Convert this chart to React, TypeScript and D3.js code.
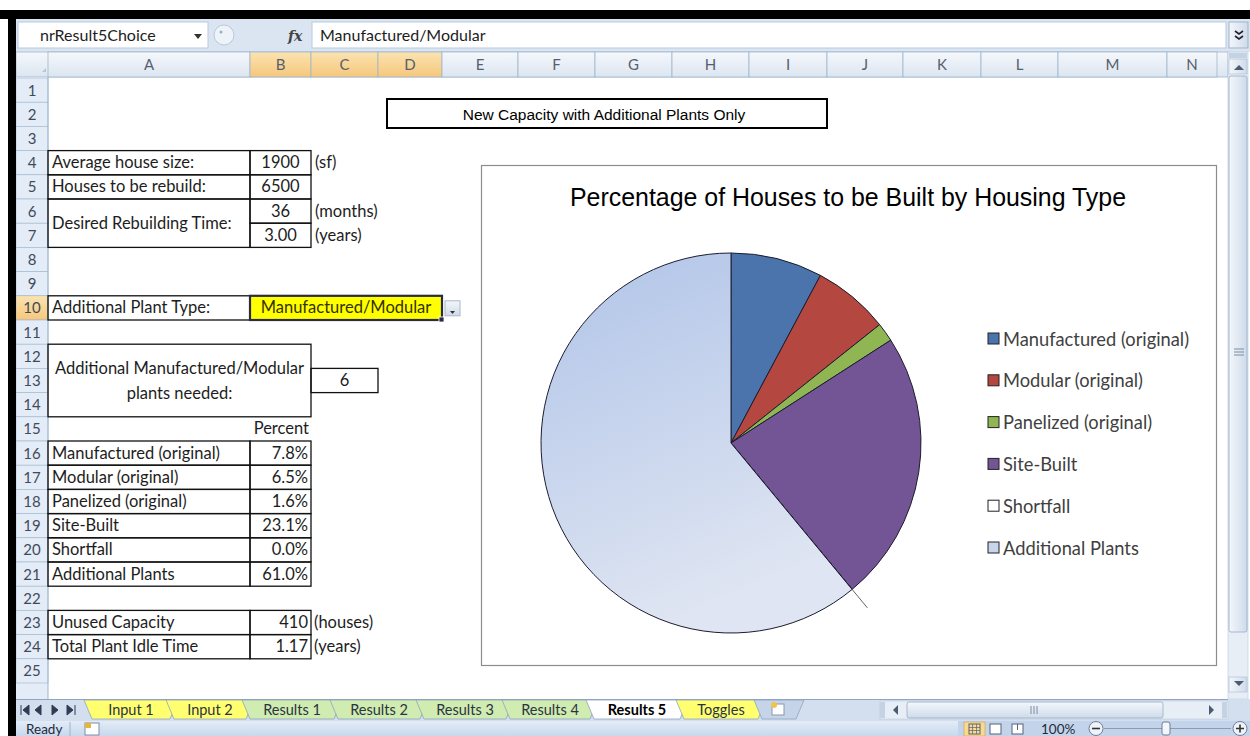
import React from 'react'
import { pie, arc, scaleLinear, scalePoint, cumsum } from 'd3'

// sheet contents
const columns = ['A', 'B', 'C', 'D', 'E', 'F', 'G', 'H', 'I', 'J', 'K', 'L', 'M', 'N']
const selectedColumns = ['B', 'C', 'D']
const inputLabels = ['Average house size:', 'Houses to be rebuild:', 'Desired Rebuilding Time:']
const inputValues = ['1900', '6500', '36', '3.00']
const inputUnits = ['(sf)', '', '(months)', '(years)']
const plantTypeLabel = 'Additional Plant Type:'
const plantType = 'Manufactured/Modular'
const plantsNeededLabel = ['Additional Manufactured/Modular', 'plants needed:']
const plantsNeeded = '6'
const categories = [
    'Manufactured (original)',
    'Modular (original)',
    'Panelized (original)',
    'Site-Built',
    'Shortfall',
    'Additional Plants',
]
const percents = [7.8, 6.5, 1.6, 23.1, 0.0, 61.0]
const capacityLabels = ['Unused Capacity', 'Total Plant Idle Time']
const capacityValues = ['410', '1.17']
const capacityUnits = ['(houses)', '(years)']
const sheetTabs = ['Input 1', 'Input 2', 'Results 1', 'Results 2', 'Results 3', 'Results 4', 'Results 5', 'Toggles']
const activeTab = 'Results 5'
const chartTitle = 'Percentage of Houses to be Built by Housing Type'
const boxTitle = 'New Capacity with Additional Plants Only'
const formulaText = 'Manufactured/Modular'
const nameBox = 'nrResult5Choice'

// layout
const colWidths = [202, 61, 67, 64, 76, 77, 77, 77, 78, 76, 78, 77, 109, 50]
const tabWidths = [82, 76, 88, 86, 86, 84, 90, 78]
const sliceColors = ['#4a74ab', '#b4473f', '#8fb652', '#735595', '#ffffff', 'url(#addGrad)']
const tabColors = ['#ffff70', '#ffff70', '#d0ecb0', '#d0ecb0', '#d0ecb0', '#d0ecb0', '#ffffff', '#ffff70']

const UI = 'Lato, "Open Sans", sans-serif'
const ARIAL = '"Liberation Sans", Arial, sans-serif'

const colEdges = [48, ...Array.from(cumsum(colWidths), v => 48 + v)]
const colX = (c: string) => colEdges[columns.indexOf(c)]
const colR = (c: string) => colEdges[columns.indexOf(c) + 1]
const rowY = scaleLinear().domain([1, 2]).range([78, 102.2])
const base = (r: number) => rowY(r) + 17.6

const Box = ({ c0, c1, r0, r1, fill = 'none', sw = 1.3 }: any) => (
    <rect x={colX(c0)} y={rowY(r0)} width={colR(c1) - colX(c0)} height={rowY(r1 + 1) - rowY(r0)}
        fill={fill} stroke="#111" strokeWidth={sw} />
)

const T = ({ x, y, anchor = 'start', size = 16.5, children, ...rest }: any) => (
    <text x={x} y={y} textAnchor={anchor} fontFamily={UI} fontSize={size} fill="#1d1d1d" {...rest}>{children}</text>
)

const App = () => {
    const cx = 731, cy = 443, r = 190
    const arcs = pie<number>().sort(null).value(d => d)(percents)
    const arcGen = arc<any>().innerRadius(0).outerRadius(r)
    const legendY = scalePoint().domain(categories).range([339, 548])
    const sa = arcs[4].startAngle
    const tabStarts = [90, ...Array.from(cumsum(tabWidths), v => 90 + v)]

    return (
        <svg width={1250} height={736} style={{ position: 'absolute', left: 0, top: 0 }}>
            <defs>
                <linearGradient id="addGrad" x1="0" y1="0" x2="0.35" y2="1">
                    <stop offset="0" stopColor="#b0c4e8" />
                    <stop offset="1" stopColor="#dfe5f2" />
                </linearGradient>
                <linearGradient id="hdr" x1="0" y1="0" x2="0" y2="1">
                    <stop offset="0" stopColor="#f5f8fc" />
                    <stop offset="1" stopColor="#dce5f0" />
                </linearGradient>
                <linearGradient id="hdrSel" x1="0" y1="0" x2="0" y2="1">
                    <stop offset="0" stopColor="#fbe3b0" />
                    <stop offset="1" stopColor="#f6c77c" />
                </linearGradient>
                <linearGradient id="bar" x1="0" y1="0" x2="0" y2="1">
                    <stop offset="0" stopColor="#e3ecf7" />
                    <stop offset="1" stopColor="#c8d8ed" />
                </linearGradient>
                <linearGradient id="thumb" x1="0" y1="0" x2="0" y2="1">
                    <stop offset="0" stopColor="#f4f7fb" />
                    <stop offset="1" stopColor="#cfdbea" />
                </linearGradient>
                <linearGradient id="vthumb" x1="0" y1="0" x2="1" y2="0">
                    <stop offset="0" stopColor="#f4f7fb" />
                    <stop offset="1" stopColor="#cfdbea" />
                </linearGradient>
            </defs>
            <rect width={1250} height={736} fill="#ffffff" />

            {/* formula bar */}
            <rect x={16} y={19} width={1234} height={33} fill="#dbe5f1" />
            <rect x={18} y={22} width={190} height={26} fill="#fff" stroke="#b8c9de" />
            <T x={40} y={41} size={16}>{nameBox}</T>
            <path d="M194,34 l8,0 l-4,5 z" fill="#333" />
            <circle cx={224} cy={35} r={10} fill="#eef3f9" stroke="#b9c8dc" />
            <circle cx={221} cy={32} r={1.5} fill="#9aaec6" />
            <text x={288} y={41} fontFamily='"DejaVu Serif", serif' fontStyle="italic" fontWeight="bold" fontSize={14} fill="#444">fx</text>
            <rect x={312} y={22} width={914} height={26} fill="#fff" stroke="#b8c9de" />
            <T x={320} y={41} size={16}>{formulaText}</T>
            <rect x={1229} y={22} width={19} height={26} fill="url(#vthumb)" stroke="#9fb3cc" />
            <path d="M1235,31 l4,3 l4,-3 M1235,36 l4,3 l4,-3" stroke="#223" strokeWidth={1.6} fill="none" />

            {/* column headers */}
            <rect x={16} y={52} width={1212} height={25} fill="url(#hdr)" stroke="#9eb6ce" strokeWidth={0.8} />
            <path d="M42,72 l4,0 l0,-4 z" fill="#b5c6da" />
            {columns.map((c, i) => (
                <g key={c}>
                    <rect x={colEdges[i]} y={52} width={colWidths[i]} height={25}
                        fill={selectedColumns.includes(c) ? 'url(#hdrSel)' : 'url(#hdr)'} stroke="#9eb6ce" strokeWidth={0.8} />
                    <T x={colEdges[i] + colWidths[i] / 2} y={70} anchor="middle" size={15} fill="#55606e">{c}</T>
                </g>
            ))}

            {/* row headers */}
            <rect x={16} y={77} width={32} height={622} fill="#e4ecf7" />
            {Array.from({ length: 25 }, (_, i) => i + 1).map(k => (
                <g key={k}>
                    <rect x={16} y={rowY(k)} width={32} height={24.2} fill={k === 10 ? 'url(#hdrSel)' : '#e4ecf7'}
                        stroke="#9eb6ce" strokeWidth={0.6} />
                    <T x={32} y={base(k)} anchor="middle" size={15} fill="#3f4b5b">{k}</T>
                </g>
            ))}
            <line x1={48} y1={77} x2={48} y2={699} stroke="#9eb6ce" />

            {/* inputs block */}
            <Box c0="A" c1="A" r0={4} r1={4} />
            <Box c0="B" c1="B" r0={4} r1={4} />
            <Box c0="A" c1="A" r0={5} r1={5} />
            <Box c0="B" c1="B" r0={5} r1={5} />
            <Box c0="A" c1="A" r0={6} r1={7} />
            <Box c0="B" c1="B" r0={6} r1={6} />
            <Box c0="B" c1="B" r0={7} r1={7} />
            <T x={52} y={base(4)}>{inputLabels[0]}</T>
            <T x={52} y={base(5)}>{inputLabels[1]}</T>
            <T x={52} y={rowY(7) + 5.5}>{inputLabels[2]}</T>
            {inputValues.map((v, i) => (
                <T key={i} x={(colX('B') + colR('B')) / 2} y={base(4 + i)} anchor="middle">{v}</T>
            ))}
            {inputUnits.map((u, i) => (
                <T key={i} x={colX('C') + 4} y={base(4 + i)}>{u}</T>
            ))}

            {/* plant type */}
            <Box c0="A" c1="A" r0={10} r1={10} />
            <T x={52} y={base(10)}>{plantTypeLabel}</T>
            <rect x={colX('B')} y={rowY(10)} width={colR('D') - colX('B')} height={24.2} fill="#ffff00" stroke="#2a2a40" strokeWidth={2.2} />
            <rect x={colR('D') - 3} y={rowY(11) - 3} width={5} height={5} fill="#2a2a40" stroke="#fff" strokeWidth={0.8} />
            <T x={(colX('B') + colR('D')) / 2} y={base(10)} anchor="middle" fill="#333300">{plantType}</T>
            <rect x={445} y={rowY(10) + 5} width={15} height={15} fill="url(#thumb)" stroke="#aab7c8" />
            <path d="M450,311 l5,0 l-2.5,3 z" fill="#333" />

            {/* plants needed */}
            <Box c0="A" c1="B" r0={12} r1={14} />
            <T x={(colX('A') + colR('B')) / 2} y={rowY(13) + 6} anchor="middle">{plantsNeededLabel[0]}</T>
            <T x={(colX('A') + colR('B')) / 2} y={rowY(14) + 6} anchor="middle">{plantsNeededLabel[1]}</T>
            <Box c0="C" c1="C" r0={13} r1={13} />
            <T x={(colX('C') + colR('C')) / 2} y={base(13)} anchor="middle">{plantsNeeded}</T>

            {/* percent table */}
            <T x={colR('B') - 2} y={base(15)} anchor="end">Percent</T>
            {categories.map((c, i) => (
                <g key={c}>
                    <Box c0="A" c1="A" r0={16 + i} r1={16 + i} />
                    <Box c0="B" c1="B" r0={16 + i} r1={16 + i} />
                    <T x={52} y={base(16 + i)}>{c}</T>
                    <T x={colR('B') - 3} y={base(16 + i)} anchor="end">{percents[i].toFixed(1)}%</T>
                </g>
            ))}

            {/* capacity */}
            {capacityLabels.map((c, i) => (
                <g key={c}>
                    <Box c0="A" c1="A" r0={23 + i} r1={23 + i} />
                    <Box c0="B" c1="B" r0={23 + i} r1={23 + i} />
                    <T x={52} y={base(23 + i)}>{c}</T>
                    <T x={colR('B') - 3} y={base(23 + i)} anchor="end">{capacityValues[i]}</T>
                    <T x={colX('C') + 3} y={base(23 + i)}>{capacityUnits[i]}</T>
                </g>
            ))}

            {/* title box */}
            <rect x={387} y={99} width={440} height={29} fill="#fff" stroke="#000" strokeWidth={2} />
            <text x={604} y={119.5} textAnchor="middle" fontFamily={ARIAL} fontSize={15.5} fill="#000">{boxTitle}</text>

            {/* chart */}
            <rect x={481.5} y={165.5} width={735} height={500} fill="#fff" stroke="#8c8c8c" strokeWidth={1.2} />
            <text x={848} y={206} textAnchor="middle" fontFamily={ARIAL} fontSize={26} fill="#000"
                textLength={556} lengthAdjust="spacingAndGlyphs">{chartTitle}</text>
            <g transform={`translate(${cx},${cy})`}>
                {arcs.map((a, i) => (
                    <path key={i} d={arcGen(a) || ''} fill={sliceColors[i]} stroke="#1c1c30" strokeWidth={1} />
                ))}
                <line x1={Math.sin(sa) * r} y1={-Math.cos(sa) * r} x2={Math.sin(sa) * (r + 24)} y2={-Math.cos(sa) * (r + 24)}
                    stroke="#666" strokeWidth={1} />
            </g>
            {categories.map((c, i) => (
                <g key={c}>
                    <rect x={988} y={legendY(c)! - 6} width={11} height={11}
                        fill={i === 5 ? '#c8d4ea' : sliceColors[i]} stroke="#222" strokeWidth={1} />
                    <T x={1003} y={legendY(c)! + 6.5} size={18.3} fill="#404040">{c}</T>
                </g>
            ))}

            {/* vertical scrollbar */}
            <rect x={1228} y={52} width={20} height={647} fill="#e8eef6" stroke="#b9c8dc" strokeWidth={0.6} />
            <rect x={1229} y={53} width={18} height={5} fill="#c4d2e4" />
            <rect x={1229} y={59} width={18} height={15} fill="url(#vthumb)" stroke="#a7b8cf" strokeWidth={0.6} />
            <path d="M1234,70 l5,-5 l5,5 z" fill="#4b5b70" />
            <rect x={1229} y={76} width={18} height={556} rx={2} fill="url(#vthumb)" stroke="#98abc4" strokeWidth={0.8} />
            <path d="M1234,349 h10 M1234,352 h10 M1234,355 h10" stroke="#7a8ca4" />
            <rect x={1229} y={677} width={18} height={15} fill="url(#vthumb)" stroke="#a7b8cf" strokeWidth={0.6} />
            <path d="M1234,681 l5,5 l5,-5 z" fill="#4b5b70" />

            {/* sheet tabs */}
            <rect x={16} y={699} width={1234} height={22} fill="#d3dfee" />
            <line x1={16} y1={699.5} x2={1228} y2={699.5} stroke="#8fa6c3" />
            {['M21,705 v10 M29,705 l-6,5 l6,5 z', 'M41,705 l-6,5 l6,5 z', 'M52,705 l6,5 l-6,5 z', 'M67,705 l6,5 l-6,5 z M75,705 v10']
                .map((d, i) => <path key={i} d={d} fill="#2e3d55" stroke="#2e3d55" strokeWidth={1} />)}
            {sheetTabs.map((t, i) => {
                const x0 = tabStarts[i], x1 = tabStarts[i + 1]
                const active = t === activeTab
                return (
                    <g key={t}>
                        <path d={`M${x0 - 6},700 L${x1 + 6},700 L${x1 - 2},719 L${x0 + 2},719 Z`}
                            fill={tabColors[i]} stroke="#8ea3bf" strokeWidth={0.8} />
                        <T x={(x0 + x1) / 2} y={715} anchor="middle" size={14.5}
                            fontWeight={active ? 'bold' : 'normal'} fill={active ? '#000' : '#2a3344'}>{t}</T>
                    </g>
                )
            })}
            <path d={`M${tabStarts[8] - 6},700 L${tabStarts[8] + 44},700 L${tabStarts[8] + 36},719 L${tabStarts[8] + 2},719 Z`}
                fill="#c5d4e8" stroke="#8ea3bf" strokeWidth={0.8} />
            <rect x={tabStarts[8] + 12} y={704} width={12} height={11} fill="#fff" stroke="#8a98ad" />
            <circle cx={tabStarts[8] + 14} cy={705} r={3} fill="#f4c34a" />

            {/* horizontal scrollbar */}
            <rect x={880} y={701} width={348} height={18} fill="#e8eef6" stroke="#b9c8dc" strokeWidth={0.6} />
            <rect x={880} y={702} width={5} height={16} fill="#c4d2e4" />
            <path d="M898,705 l-5,5 l5,5 z" fill="#4b5b70" />
            <rect x={907} y={702} width={256} height={16} rx={2} fill="url(#thumb)" stroke="#98abc4" strokeWidth={0.8} />
            <path d="M1031,706 v8 M1034,706 v8 M1037,706 v8" stroke="#7a8ca4" />
            <path d="M1209,705 l5,5 l-5,5 z" fill="#4b5b70" />
            <rect x={1222} y={702} width={5} height={16} fill="#c4d2e4" />

            {/* status bar */}
            <rect x={16} y={721} width={1234} height={15} fill="url(#bar)" />
            <rect x={958} y={721} width={292} height={15} fill="#c3d4ea" />
            <T x={26} y={734} size={13.5} fill="#1f2a3a">Ready</T>
            <line x1={70} y1={722} x2={70} y2={736} stroke="#9fb3cc" />
            <rect x={85} y={723} width={14} height={12} fill="#fff" stroke="#7d8ea6" />
            <rect x={85} y={723} width={6} height={5} fill="#e8b53a" />
            <rect x={964} y={722} width={21} height={14} fill="#f9d98f" stroke="#c9a050" strokeWidth={0.6} />
            <rect x={969} y={724} width={11} height={10} fill="none" stroke="#55637a" />
            <path d="M969,727.5 h11 M969,730.5 h11 M972.5,724 v10 M976.5,724 v10" stroke="#55637a" strokeWidth={0.7} />
            <rect x={990} y={724} width={11} height={10} fill="#fff" stroke="#55637a" />
            <rect x={1012} y={724} width={11} height={10} fill="#fff" stroke="#55637a" />
            <path d="M1017.5,724 v6" stroke="#55637a" />
            <T x={1041} y={734} size={13.5} fill="#1f2a3a">100%</T>
            <circle cx={1096} cy={728.5} r={7} fill="#eef3fa" stroke="#6c7f99" />
            <path d="M1092,728.5 h8" stroke="#333" strokeWidth={1.6} />
            <line x1={1104} y1={728.5} x2={1231} y2={728.5} stroke="#8a9bb3" />
            <rect x={1162} y={722} width={8} height={13} rx={2} fill="#f3f6fa" stroke="#6c7f99" />
            <circle cx={1240} cy={728.5} r={7} fill="#eef3fa" stroke="#6c7f99" />
            <path d="M1236,728.5 h8 M1240,724.5 v8" stroke="#333" strokeWidth={1.6} />

            {/* window edges */}
            <rect x={0} y={10} width={1250} height={9} fill="#000" />
            <rect x={8} y={10} width={8} height={726} fill="#000" />
        </svg>
    )
}

export default App
